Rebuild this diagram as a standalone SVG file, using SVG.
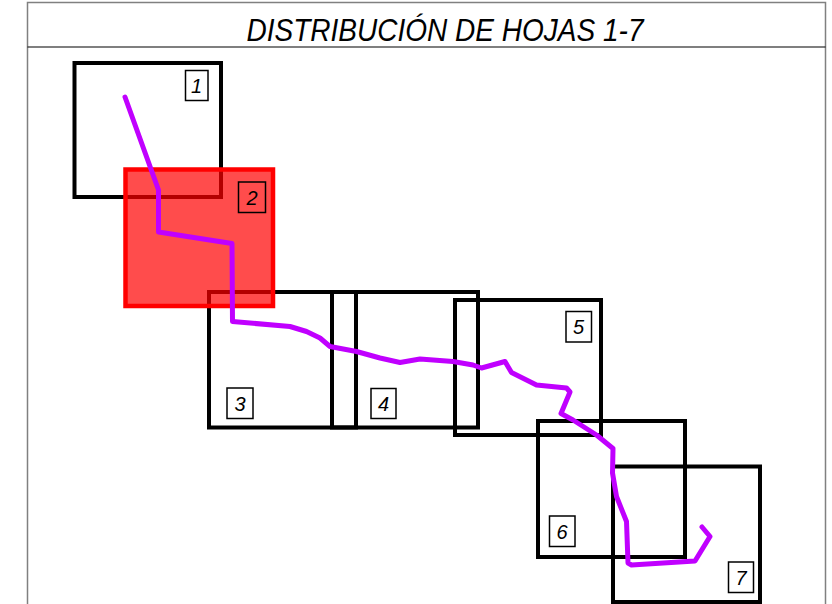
<svg xmlns="http://www.w3.org/2000/svg" width="832" height="604" viewBox="0 0 832 604">
<style>
.sheet{fill:none;stroke:#000;stroke-width:4}
.lbl{fill:#fff;stroke:#000;stroke-width:1.5}
.num{font-family:"Liberation Sans",Arial,sans-serif;font-style:italic;font-size:20px;fill:#000;text-anchor:middle}
.title{font-family:"Liberation Sans",Arial,sans-serif;font-style:italic;font-size:32px;fill:#000;text-anchor:middle}
</style>
<rect width="832" height="604" fill="#fff"/>
<g id="frame">
<path d="M27.5 604 V2.5 H825.5 V604" fill="none" stroke="#808080" stroke-width="1.5"/>
<line x1="27.5" y1="47" x2="825.5" y2="47" stroke="#000" stroke-width="1.2"/>
<text class="title" x="445" y="41" textLength="397" lengthAdjust="spacingAndGlyphs">DISTRIBUCIÓN DE HOJAS 1-7</text>
</g>
<g id="hoja1">
<rect class="sheet" x="74.5" y="63" width="146.5" height="134"/>
<rect class="lbl" x="185.5" y="70.5" width="22.5" height="30"/>
<text class="num" x="196.5" y="92.5">1</text>
</g>
<g id="hoja3">
<rect class="sheet" x="209" y="292" width="147" height="135.5"/>
<rect class="lbl" x="227" y="388" width="26" height="30.5"/>
<text class="num" x="240" y="410.5">3</text>
</g>
<g id="hoja4">
<rect class="sheet" x="332" y="292" width="146" height="135.5"/>
<rect class="lbl" x="371" y="388.5" width="25" height="30"/>
<text class="num" x="383.5" y="410.5">4</text>
</g>
<g id="hoja5">
<rect class="sheet" x="455" y="300" width="146" height="135"/>
<rect class="lbl" x="566" y="311.5" width="25.5" height="30.5"/>
<text class="num" x="578.5" y="333.5">5</text>
</g>
<g id="hoja6">
<rect class="sheet" x="538" y="421" width="147" height="136"/>
<rect class="lbl" x="549.5" y="516" width="25.5" height="30.5"/>
<text class="num" x="562" y="538.5">6</text>
</g>
<g id="hoja7">
<rect class="sheet" x="613" y="466.5" width="147" height="135.5"/>
<rect class="lbl" x="728.5" y="562" width="25" height="30.5"/>
<text class="num" x="741" y="584.5">7</text>
</g>
<g id="hoja2">
<rect x="125.5" y="169.5" width="147.5" height="136.5" fill="#ff0000" fill-opacity="0.7" stroke="#ff0000" stroke-width="4.5"/>
<rect x="238.5" y="182" width="27" height="30.5" fill="none" stroke="#000" stroke-width="1.5"/>
<text class="num" x="252" y="204.5">2</text>
</g>
<g id="connectors">
<path d="M125 97 L158.5 190 L158.5 232 L232 243.5 L232.5 321.5 L290 326.5 L306.5 331.5 L320 338 L330 346.5 L356.5 351.5 L380 358 L400 362.5 L420 359 L453 361.5 L473 365 L481.5 368 L505 361.5 L511.5 372.5 L536.5 385 L566.5 388 L570 392 L561 413.5 L573 420 L596.5 435 L613 448.5 L612.5 473 L616.5 496.5 L626.5 521.5 L628 563 L631.5 565 L695 561 L710 536.5 L702 527" fill="none" stroke="#c000ff" stroke-width="5" stroke-linejoin="round" stroke-linecap="round"/>
</g>
</svg>
